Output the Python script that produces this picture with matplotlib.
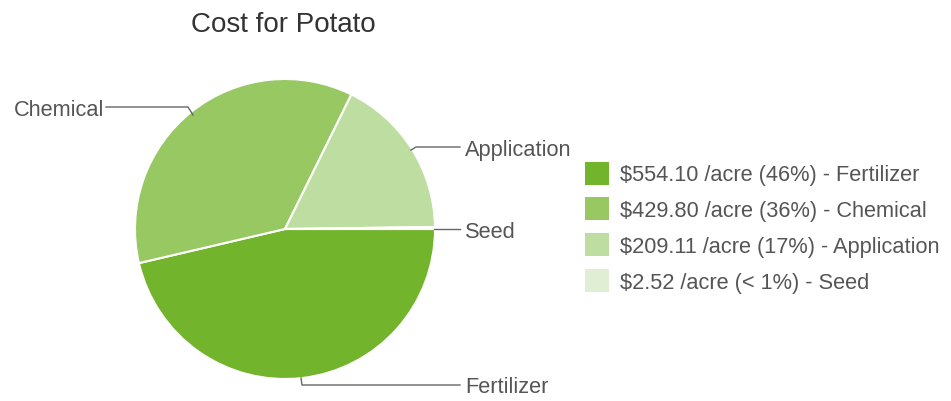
import matplotlib.pyplot as plt
from matplotlib.patches import Rectangle

plt.rcParams['font.family'] = ['Liberation Sans', 'DejaVu Sans']

# Input data
categories = ['Fertilizer', 'Chemical', 'Application', 'Seed']
costs = [554.10, 429.80, 209.11, 2.52]
pct_labels = ['46%', '36%', '17%', '< 1%']
colors = ['#72b42c', '#97c862', '#bddea0', '#e0efd4']

W, H = 951, 402
fig = plt.figure(figsize=(W / 100, H / 100), dpi=100)
ax = fig.add_axes([0, 0, 1, 1])

# pixel helper: y measured from the top
def py(y):
    return H - y

cx, cy, r = 285, py(230), 150
ax.pie(costs, colors=colors, startangle=0, counterclock=False,
       center=(cx, cy), radius=r, frame=True,
       wedgeprops=dict(edgecolor='white', linewidth=1.5))
ax.set_xlim(0, W)
ax.set_ylim(0, H)
ax.set_aspect('equal')
ax.axis('off')

fig.text(283 / W, 1 - 25 / H, 'Cost for Potato', ha='center', va='center',
         fontsize=20, color='#333333')

txt = '#555555'
line = '#666666'
fs = 15.7
dy = 2  # visual centring of text

# leader lines and slice labels
ax.plot([193, 188, 106], [py(116), py(108), py(108)], color=line, lw=1)
ax.text(104, py(108 + dy), 'Chemical', ha='right', va='center', fontsize=fs, color=txt)

ax.plot([411, 416, 460], [py(151), py(148), py(148)], color=line, lw=1)
ax.text(465, py(149 + dy), 'Application', ha='left', va='center', fontsize=fs, color=txt)

ax.plot([434, 460], [py(230), py(230)], color=line, lw=1)
ax.text(465, py(231 + dy), 'Seed', ha='left', va='center', fontsize=fs, color=txt)

ax.plot([301, 302, 460], [py(379), py(386), py(386)], color=line, lw=1)
ax.text(465, py(386 + dy), 'Fertilizer', ha='left', va='center', fontsize=fs, color=txt)

# legend
for i, (cat, val, pct, col) in enumerate(zip(categories, costs, pct_labels, colors)):
    yc = 174 + i * 35.7
    ax.add_patch(Rectangle((585, py(yc + 11.5)), 24, 23, color=col, lw=0))
    ax.text(620, py(yc + dy), f'${val:.2f} /acre ({pct}) - {cat}', ha='left',
            va='center', fontsize=fs, color=txt)

fig.savefig('out.png', dpi=100)
